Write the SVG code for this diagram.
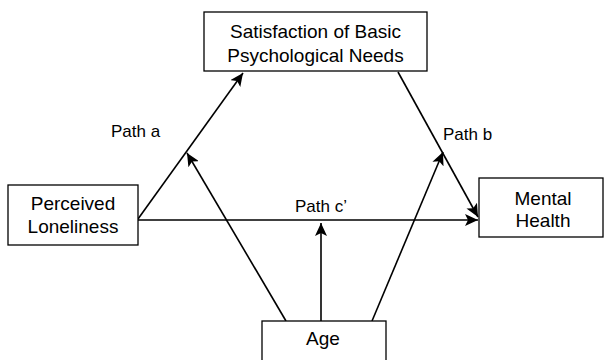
<svg xmlns="http://www.w3.org/2000/svg" width="605" height="360" viewBox="0 0 605 360">
<style>
.box{fill:#fff;stroke:#000;stroke-width:1.3}
.node{font-family:"Liberation Sans",Arial,sans-serif;font-size:19px;fill:#000;text-anchor:middle}
.lbl{font-family:"Liberation Sans",Arial,sans-serif;font-size:17px;fill:#000}
.ln{stroke:#000;stroke-width:1.6;fill:none;marker-end:url(#ah)}
</style>
<defs>
<marker id="ah" markerUnits="userSpaceOnUse" markerWidth="14" markerHeight="12" viewBox="0 0 14 12" refX="13" refY="6" orient="auto">
<path d="M0,0 L13,6 L0,12 L3,6 Z" fill="#000"/>
</marker>
</defs>
<rect width="605" height="360" fill="#fff"/>
<g id="connectors">
<line class="ln" x1="138" y1="219" x2="243" y2="73"/>
<line class="ln" x1="398" y1="72" x2="478" y2="217"/>
<line class="ln" x1="138" y1="220" x2="478" y2="220"/>
<line class="ln" x1="286" y1="321" x2="187" y2="153"/>
<line class="ln" x1="321" y1="321" x2="321" y2="223"/>
<line class="ln" x1="372" y1="321" x2="443" y2="152"/>
</g>
<g id="labels">
<text class="lbl" x="111" y="137">Path a</text>
<text class="lbl" x="443" y="140">Path b</text>
<text class="lbl" x="295" y="212">Path c’</text>
</g>
<g id="node-needs">
<rect class="box" x="204" y="12" width="223" height="59"/>
<text class="node" x="315.5" y="38">Satisfaction of Basic</text>
<text class="node" x="315.5" y="62">Psychological Needs</text>
</g>
<g id="node-loneliness">
<rect class="box" x="8" y="185" width="130" height="60"/>
<text class="node" x="73" y="210">Perceived</text>
<text class="node" x="73" y="233">Loneliness</text>
</g>
<g id="node-mental">
<rect class="box" x="479" y="178" width="124" height="59"/>
<text class="node" x="543" y="205">Mental</text>
<text class="node" x="543" y="227">Health</text>
</g>
<g id="node-age">
<rect class="box" x="262" y="321" width="124" height="50"/>
<text class="node" x="323" y="345">Age</text>
</g>
</svg>
